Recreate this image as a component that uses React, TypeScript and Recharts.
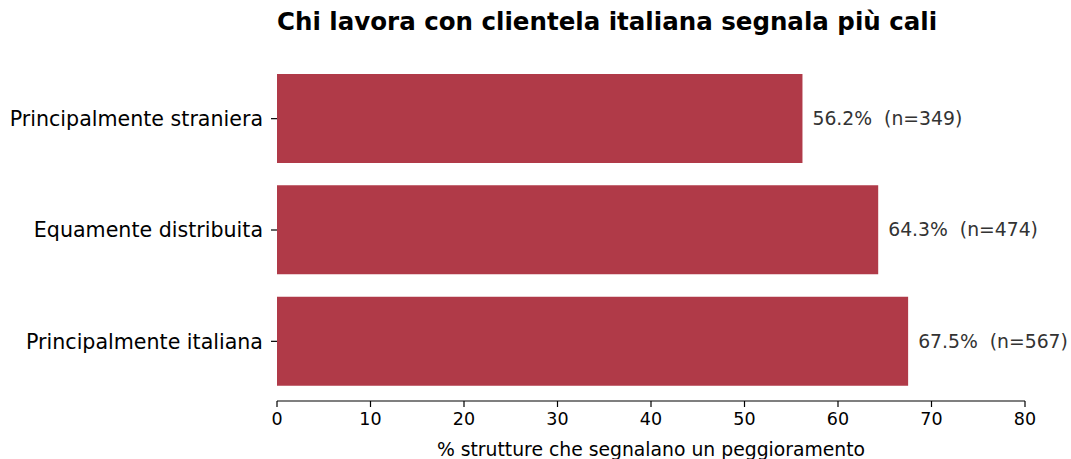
import React from "react";
import { BarChart, Bar, XAxis, YAxis, LabelList } from "recharts";

const categories = ["Principalmente straniera", "Equamente distribuita", "Principalmente italiana"];
const percentages = [56.2, 64.3, 67.5];
const counts = [349, 474, 567];
const xTicks = [0, 10, 20, 30, 40, 50, 60, 70, 80];

const title = "Chi lavora con clientela italiana segnala più cali";
const xLabel = "% strutture che segnalano un peggioramento";

const data = categories.map((c, i) => ({ name: c, value: percentages[i], n: counts[i] }));

const FONT = "'DejaVu Sans', sans-serif";

const ValueLabel = (props: any) => {
  const { x, y, width, height, index } = props;
  const d = data[index];
  return (
    <text
      x={x + width + 10}
      y={y + height / 2}
      dominantBaseline="central"
      fontSize={18.8}
      fill="#333333"
      fontFamily={FONT}
      style={{ whiteSpace: "pre" }}
    >
      {`${d.value.toFixed(1)}%  (n=${d.n})`}
    </text>
  );
};

export default function App() {
  return (
    <div style={{ position: "absolute", left: 0, top: 0, width: 1071, height: 459, background: "#fff" }}>
      <div
        style={{
          position: "absolute",
          left: 277,
          top: 7,
          fontFamily: FONT,
          fontWeight: "bold",
          fontSize: 24.5,
          color: "#000",
          whiteSpace: "nowrap",
        }}
      >
        {title}
      </div>
      <BarChart
        width={1071}
        height={459}
        data={data}
        layout="vertical"
        margin={{ top: 63, right: 46, bottom: 0, left: 0 }}
        barSize={89}
      >
        <XAxis
          type="number"
          domain={[0, 80]}
          ticks={xTicks}
          interval={0}
          axisLine={{ stroke: "#000", strokeWidth: 1.2 }}
          tickLine={{ stroke: "#000", strokeWidth: 1.2 }}
          tickSize={6}
          tickMargin={6}
          tick={{ fill: "#000", fontSize: 17.5, fontFamily: FONT }}
          height={58}
          label={{ value: xLabel, position: "insideBottom", offset: 3, fill: "#000", fontSize: 18.8, fontFamily: FONT }}
        />
        <YAxis
          type="category"
          dataKey="name"
          width={277}
          padding={{ top: 0, bottom: 4 }}
          axisLine={false}
          tickLine={{ stroke: "#000", strokeWidth: 1.2 }}
          tickSize={6}
          tickMargin={8}
          tick={{ fill: "#000", fontSize: 20.6, fontFamily: FONT }}
        />
        <Bar dataKey="value" fill="#B03A48" isAnimationActive={false}>
          <LabelList dataKey="value" content={<ValueLabel />} />
        </Bar>
      </BarChart>
    </div>
  );
}
